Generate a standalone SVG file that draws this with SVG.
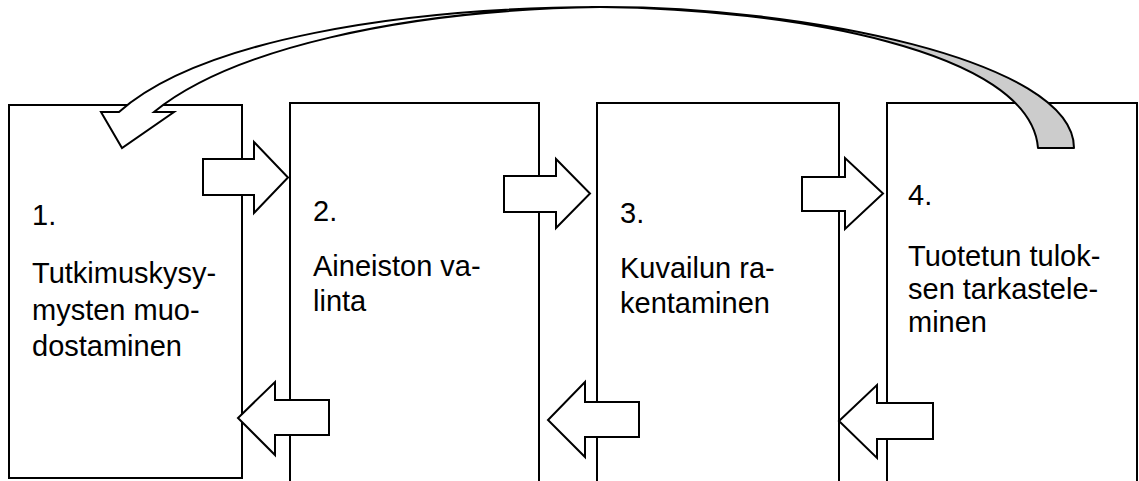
<svg xmlns="http://www.w3.org/2000/svg" width="1139" height="481" viewBox="0 0 1139 481">
<style>
.box{fill:#fff;stroke:#000;stroke-width:2}
.arr{fill:#fff;stroke:#000;stroke-width:2;stroke-linejoin:miter}
.t{font-family:"Liberation Sans",Arial,sans-serif;font-size:29px;fill:#000}
</style>
<rect width="1139" height="481" fill="#fff"/>
<g id="node1">
<rect class="box" x="9" y="105" width="233" height="373"/>
<text class="t" x="32" y="225">1.</text>
<text class="t" x="32" y="283">Tutkimuskysy-</text>
<text class="t" x="32" y="320">mysten muo-</text>
<text class="t" x="32" y="356">dostaminen</text>
</g>
<g id="node2">
<rect class="box" x="290" y="103" width="249" height="400"/>
<text class="t" x="313" y="221">2.</text>
<text class="t" x="313" y="276">Aineiston va-</text>
<text class="t" x="313" y="311">linta</text>
</g>
<g id="node3">
<rect class="box" x="597" y="103" width="242" height="400"/>
<text class="t" x="620" y="223">3.</text>
<text class="t" x="620" y="278">Kuvailun ra-</text>
<text class="t" x="620" y="313">kentaminen</text>
</g>
<g id="node4">
<rect class="box" x="887" y="103" width="250" height="400"/>
<text class="t" x="908" y="205">4.</text>
<text class="t" x="908" y="266">Tuotetun tulok-</text>
<text class="t" x="908" y="299">sen tarkastele-</text>
<text class="t" x="908" y="332">minen</text>
</g>
<g id="connectors">
<polygon class="arr" points="203,159 254,159 254,142 288,177.5 254,213 254,195 203,195"/>
<polygon class="arr" points="504,176 556,176 556,159 590,193.5 556,228 556,212 504,212"/>
<polygon class="arr" points="802,177 845,177 845,158 883,193.5 845,229 845,211 802,211"/>
<polygon class="arr" points="329,400 275,400 275,382 238,418 275,455 275,435 329,435"/>
<polygon class="arr" points="639,402 585,402 585,382 548,420 585,457 585,437 639,437"/>
<polygon class="arr" points="933,403 877,403 877,385 839,421 877,458 877,439 933,439"/>
<path class="arr" d="M119,112 C200,40 400,8 600,7 C400,10 230,50 154,112 L174,112 L122,148 L101,112 Z"/>
<path d="M600,7 C800,6 1074,60 1074,148 L1038,148 C1030,50 790,9 600,7 Z" fill="#cccccc" stroke="#000" stroke-width="2" stroke-linejoin="round"/>
</g>
</svg>
